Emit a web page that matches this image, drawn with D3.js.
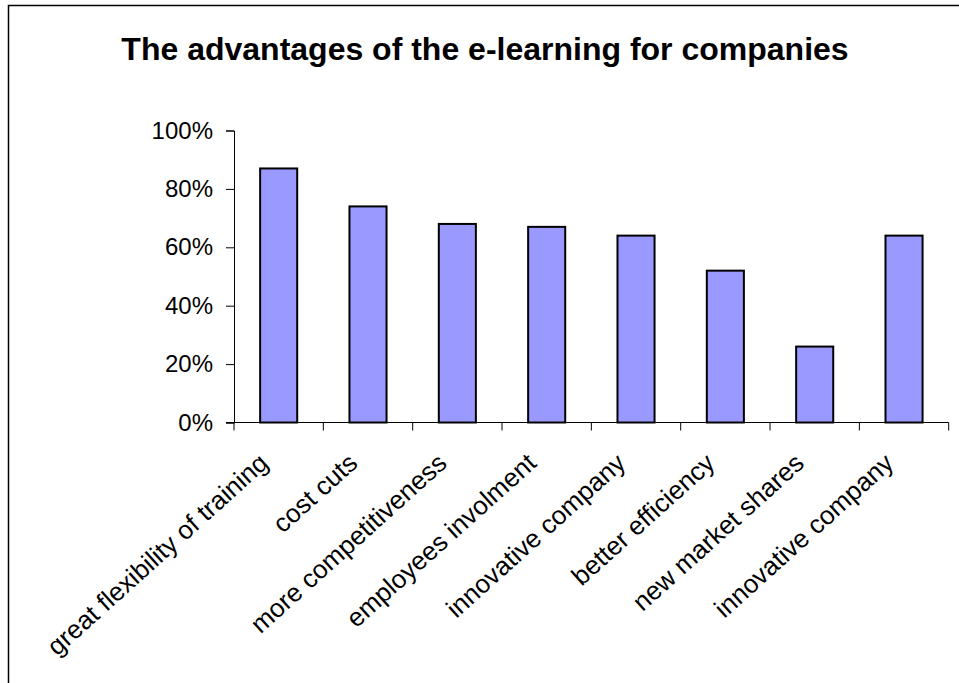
<!DOCTYPE html>
<html>
<head>
<meta charset="utf-8">
<script src="https://cdn.jsdelivr.net/npm/d3@7"></script>
<style>
  html, body { margin: 0; padding: 0; background: #fff; }
  svg { display: block; }
  text { font-family: Arial, "Liberation Sans", sans-serif; fill: #000; }
</style>
</head>
<body>
<script>
const categories = [
  "great flexibility of training",
  "cost cuts",
  "more competitiveness",
  "employees involment",
  "innovative company",
  "better efficiency",
  "new market shares",
  "innovative company "
];
const values = [0.87, 0.74, 0.68, 0.67, 0.64, 0.52, 0.26, 0.64];
const yTicks = [0, 0.2, 0.4, 0.6, 0.8, 1.0];
const title = "The advantages of the e-learning for companies";

const W = 959, H = 683;
const svg = d3.select("body").append("svg").attr("width", W).attr("height", H);

// outer border (left/top visible)
svg.append("rect")
  .attr("x", 8.5).attr("y", 5.5).attr("width", 1000).attr("height", 1000)
  .attr("fill", "none").attr("stroke", "#000").attr("stroke-width", 1.5);

svg.append("text")
  .attr("x", 485).attr("y", 60)
  .attr("text-anchor", "middle")
  .style("font-size", "32px").style("font-weight", "bold")
  .text(title);

const x0 = 234, x1 = 948.7, yBottom = 422.5, yTop = 130.5;

const xBoundary = d3.scaleBand().domain(categories.map((d, i) => i)).range([x0, x1]).padding(0);
const x = d3.scaleBand().domain(categories.map((d, i) => i)).range([x0, x1])
  .paddingInner(0.585).paddingOuter(0.2925);
const y = d3.scaleLinear().domain([0, 1]).range([yBottom, yTop]);

// Y axis
const yAxis = d3.axisLeft(y).tickValues(yTicks).tickSize(8).tickPadding(13)
  .tickFormat(d3.format(".0%"));
const gy = svg.append("g").attr("transform", `translate(${x0},0)`).call(yAxis);
gy.select(".domain").attr("stroke", "#000").attr("stroke-width", 1);
gy.selectAll(".tick line").attr("stroke", "#000");
gy.selectAll(".tick text").style("font-size", "24px").attr("font-family", null);

// bars
svg.append("g").selectAll("rect")
  .data(values)
  .join("rect")
  .attr("x", (d, i) => x(i))
  .attr("y", d => y(d))
  .attr("width", x.bandwidth())
  .attr("height", d => yBottom - y(d))
  .attr("fill", "#9999ff")
  .attr("stroke", "#000")
  .attr("stroke-width", 2);

// X axis line and boundary ticks
const gx = svg.append("g");
gx.append("line").attr("x1", x0 - 8).attr("x2", x1).attr("y1", yBottom).attr("y2", yBottom)
  .attr("stroke", "#000").attr("stroke-width", 1);
const bounds = categories.map((d, i) => xBoundary(i)).concat([x1]);
gx.selectAll("line.tk").data(bounds).join("line").attr("class", "tk")
  .attr("x1", d => d).attr("x2", d => d)
  .attr("y1", yBottom).attr("y2", yBottom + 8)
  .attr("stroke", "#000").attr("stroke-width", 1);

// category labels
gx.selectAll("text.cat").data(categories).join("text").attr("class", "cat")
  .attr("transform", (d, i) => `translate(${x(i) + x.bandwidth() / 2 - 15},${yBottom + 36}) rotate(-42)`)
  .attr("text-anchor", "end")
  .attr("dy", "0.35em")
  .style("font-size", "26px")
  .text(d => d.trim());
</script>
</body>
</html>
